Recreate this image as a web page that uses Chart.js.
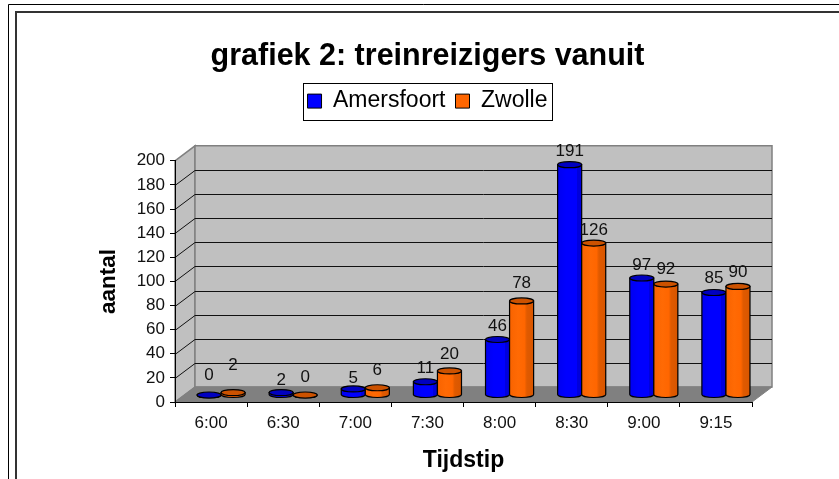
<!DOCTYPE html>
<html><head><meta charset="utf-8">
<style>html,body{margin:0;padding:0;background:#fff}canvas{display:block}</style>
<script src="https://cdn.jsdelivr.net/npm/chart.js@4"></script>
</head><body><canvas id="c" width="839" height="479"></canvas>
<script>
const categories = ['6:00','6:30','7:00','7:30','8:00','8:30','9:00','9:15'];
const amersfoort = [0,2,5,11,46,191,97,85];
const zwolle = [2,0,6,20,78,126,92,90];
const yTicks = [0,20,40,60,80,100,120,140,160,180,200];

// styling (relative offsets of the value labels above each cylinder top)
const liftAmersfoort = [20,12,11,13,13,13,13,14];
const liftZwolle = [27,18,17,17,18,13,15,14];
const FONT = '"Liberation Sans", Arial, sans-serif';
const DEPTH_X = 20, DEPTH_Y = 15, BAR_DX = 10, BAR_DY = 7, RY = 3;
const shade = [
  {side:'#0000ff', top:'#0000c0', stops:[[0,'#0000f0'],[.35,'#0000ff'],[.8,'#0000ff'],[.8,'#0000dc'],[1,'#0000dc']]},
  {side:'#ff6600', top:'#cc5200', stops:[[0,'#f86300'],[.35,'#ff6a04'],[.62,'#ff6600'],[.72,'#e05a00'],[1,'#d85600']]}
];

const scene = {
  id:'scene',
  beforeDraw(chart){
    const {ctx, chartArea:a, scales:{y}} = chart;
    ctx.save();
    ctx.fillStyle='#fff'; ctx.fillRect(0,0,chart.width,chart.height);
    // frame
    ctx.strokeStyle='#000'; ctx.lineWidth=1;
    ctx.beginPath(); ctx.moveTo(8.5,479); ctx.lineTo(8.5,4.5); ctx.lineTo(839,4.5); ctx.stroke();
    ctx.strokeStyle='#333'; ctx.lineWidth=2;
    ctx.beginPath(); ctx.moveTo(16,479); ctx.lineTo(16,12); ctx.lineTo(839,12); ctx.stroke();
    // side wall
    const L=a.left,R=a.right,T=a.top,B=a.bottom;
    ctx.fillStyle='#c0c0c0'; ctx.strokeStyle='#808080'; ctx.lineWidth=1.5;
    ctx.beginPath(); ctx.moveTo(L,T); ctx.lineTo(L+DEPTH_X,T-DEPTH_Y); ctx.lineTo(L+DEPTH_X,B-DEPTH_Y); ctx.lineTo(L,B); ctx.closePath(); ctx.fill(); ctx.stroke();
    // back wall
    ctx.beginPath(); ctx.rect(L+DEPTH_X,T-DEPTH_Y,R-L,B-T); ctx.fill(); ctx.stroke();
    // grid lines
    ctx.strokeStyle='#111'; ctx.lineWidth=1;
    yTicks.forEach(v=>{
      if(v===0||v===200) return;
      const p=Math.round(y.getPixelForValue(v))+.5;
      ctx.beginPath(); ctx.moveTo(L,p); ctx.lineTo(L+DEPTH_X,p-DEPTH_Y); ctx.lineTo(R+DEPTH_X,p-DEPTH_Y); ctx.stroke();
    });
    // floor
    ctx.fillStyle='#808080'; ctx.strokeStyle='#808080';
    ctx.beginPath(); ctx.moveTo(L,B); ctx.lineTo(L+DEPTH_X,B-DEPTH_Y); ctx.lineTo(R+DEPTH_X,B-DEPTH_Y); ctx.lineTo(R,B); ctx.closePath(); ctx.fill(); ctx.stroke();
    ctx.restore();
  },
  beforeDatasetDraw(chart){ chart.ctx.save(); chart.ctx.translate(BAR_DX,-BAR_DY); },
  afterDatasetDraw(chart){ chart.ctx.restore(); },
  afterDatasetsDraw(chart){
    const ctx=chart.ctx;
    ctx.save(); ctx.translate(BAR_DX,-BAR_DY);
    const n=categories.length;
    for(let i=0;i<n;i++){
      [0,1].forEach(ds=>{
        const el=chart.getDatasetMeta(ds).data[i], s=shade[ds];
        const x=el.x,w=el.width,l=x-w/2,r=x+w/2,top=el.y,base=el.base;
        const g=ctx.createLinearGradient(l,0,r,0); s.stops.forEach(t=>g.addColorStop(t[0],t[1]));
        ctx.fillStyle=g; ctx.strokeStyle='#000'; ctx.lineWidth=1.2;
        ctx.beginPath(); ctx.moveTo(l,top); ctx.lineTo(l,base); ctx.ellipse(x,base,w/2,RY,0,Math.PI,0,true); ctx.lineTo(r,top); ctx.closePath(); ctx.fill(); ctx.stroke();
        ctx.fillStyle=s.top;
        ctx.beginPath(); ctx.ellipse(x,top,w/2,RY,0,0,Math.PI*2); ctx.fill(); ctx.stroke();
      });
    }
    // value labels
    ctx.fillStyle='#111'; ctx.font='17px '+FONT; ctx.textAlign='center'; ctx.textBaseline='middle';
    [[0,liftAmersfoort,amersfoort],[1,liftZwolle,zwolle]].forEach(([ds,lift,vals])=>{
      chart.getDatasetMeta(ds).data.forEach((el,i)=>ctx.fillText(String(vals[i]),el.x,el.y-lift[i]));
    });
    ctx.restore();
  },
  afterDraw(chart){
    const h=chart.legend.legendHitBoxes, ctx=chart.ctx;
    const a=h[0], b=h[h.length-1];
    ctx.save(); ctx.strokeStyle='#000'; ctx.lineWidth=1;
    const y0=Math.round(a.top+a.height/2-18.5)+.5;
    const x0=Math.round(a.left-5)+.5;
    ctx.strokeRect(x0,y0,249,37);
    ctx.restore();
  }
};

new Chart(document.getElementById('c'),{
  type:'bar',
  data:{labels:categories,datasets:[
    {label:'Amersfoort',data:amersfoort,backgroundColor:'#0000ff',borderColor:'#000',borderWidth:1},
    {label:'Zwolle',data:zwolle,backgroundColor:'#ff6600',borderColor:'#000',borderWidth:1}
  ]},
  options:{
    responsive:false,animation:false,devicePixelRatio:1,
    categoryPercentage:.667,barPercentage:1,
    layout:{padding:{left:103,right:87,top:0,bottom:0}},
    scales:{
      x:{
        grid:{drawOnChartArea:false,tickLength:5,color:'#000',offset:true},
        border:{color:'#000'},
        ticks:{color:'#111',font:{family:FONT,size:17},padding:6,maxRotation:0},
        title:{display:true,text:'Tijdstip',color:'#000',font:{family:FONT,size:23,weight:'bold'},padding:{top:0,bottom:5}},
        afterFit(s){s.height=77;}
      },
      y:{
        min:0,max:200,
        afterBuildTicks(s){s.ticks=yTicks.map(v=>({value:v}));},
        grid:{drawOnChartArea:false,tickLength:5,color:'#000'},
        border:{color:'#000'},
        ticks:{color:'#111',font:{family:FONT,size:17},padding:5},
        title:{display:true,text:'aantal',color:'#000',font:{family:FONT,size:22.5,weight:'bold'},padding:{top:-8,bottom:0}},
        afterFit(s){s.width=72;}
      }
    },
    plugins:{
      tooltip:{enabled:false},
      title:{display:true,text:'grafiek 2: treinreizigers vanuit',color:'#000',font:{family:FONT,size:30.5,weight:'bold'},padding:{top:38,bottom:5}},
      legend:{display:true,position:'top',labels:{color:'#000',font:{family:FONT,size:23},boxWidth:14,boxHeight:14,padding:10}},
      subtitle:{display:true,text:'',weight:500,font:{size:1},padding:{top:37,bottom:0}}
    }
  },
  plugins:[scene]
});
</script></body></html>
